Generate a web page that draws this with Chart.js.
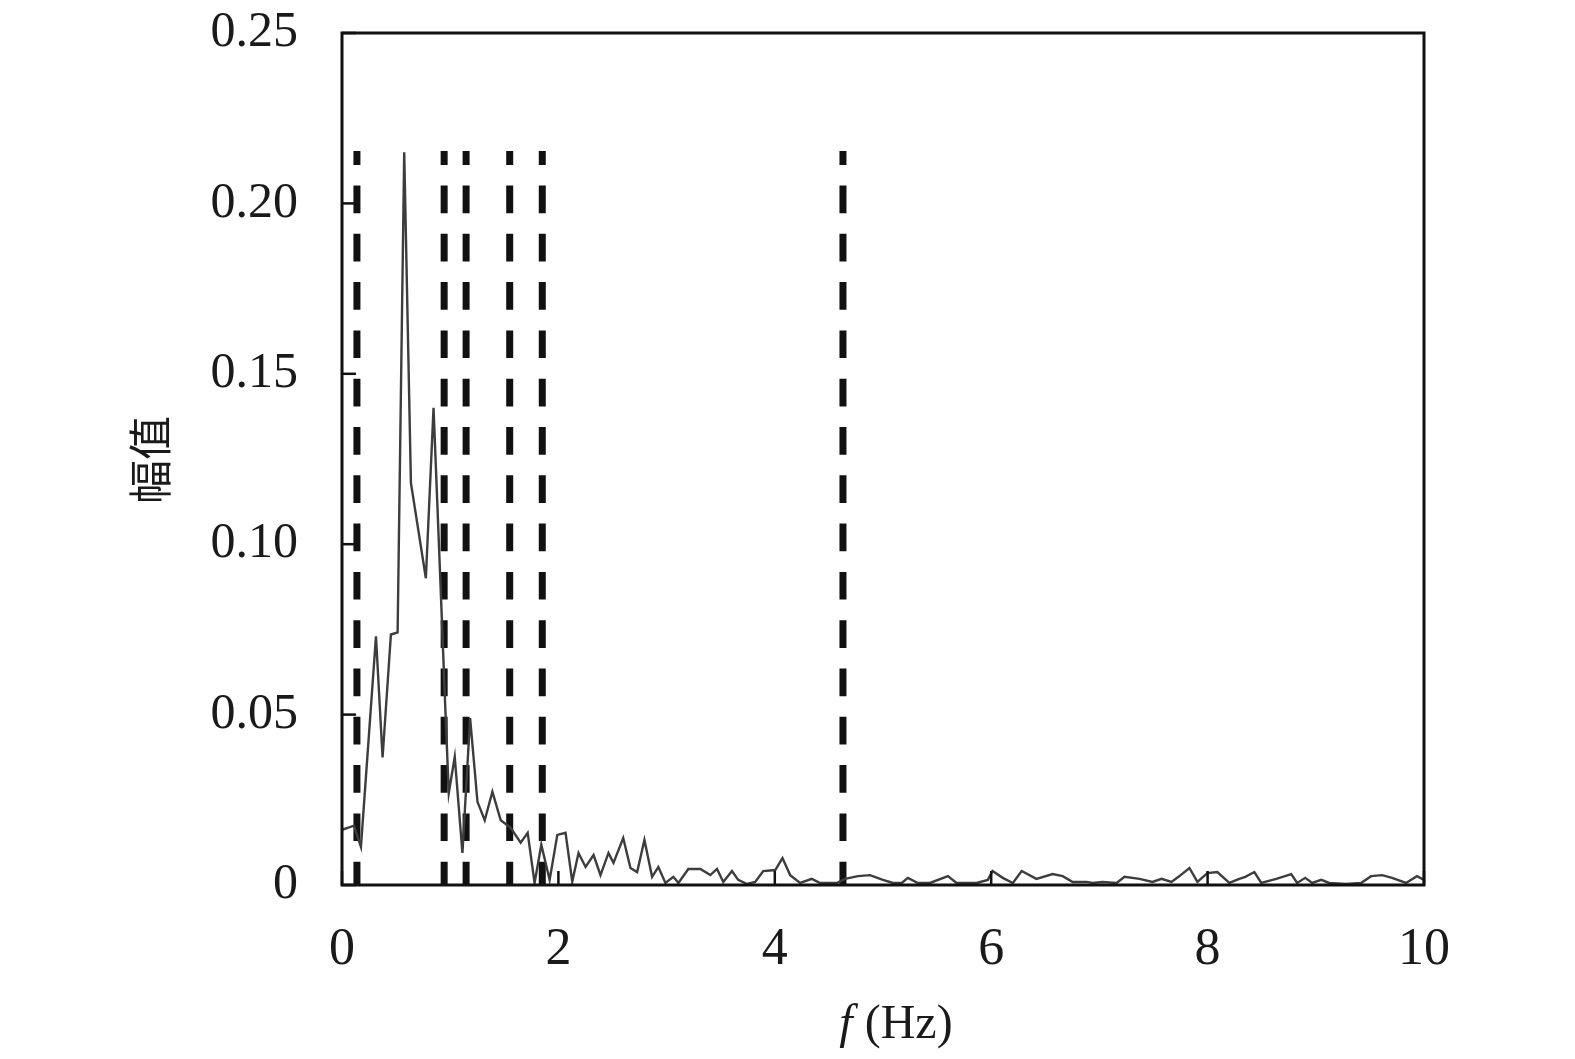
<!DOCTYPE html>
<html>
<head>
<meta charset="utf-8">
<script src="https://cdn.jsdelivr.net/npm/chart.js@4"></script>
<style>
  html, body { margin: 0; padding: 0; background: #ffffff; }
  #wrap { width: 1575px; height: 1059px; }
</style>
</head>
<body>
<div id="wrap"><canvas id="c" width="1575" height="1059"></canvas></div>
<script>
// Spectrum curve (frequency in Hz, amplitude)
const freq = [0, 0.11, 0.175, 0.314, 0.375, 0.452, 0.514, 0.575, 0.637, 0.775, 0.846, 0.913, 0.959, 0.987,
  1.042, 1.113, 1.184, 1.252, 1.319, 1.390, 1.467, 1.559, 1.651, 1.716, 1.780, 1.842, 1.919, 1.99,
  2.066, 2.128, 2.186, 2.251, 2.325, 2.389, 2.463, 2.509, 2.599, 2.666, 2.728, 2.795, 2.866, 2.924, 2.989,
  3.063, 3.109, 3.201, 3.312, 3.404, 3.466, 3.524, 3.604, 3.662, 3.743, 3.819, 3.893, 4.004, 4.071, 4.142,
  4.234, 4.342, 4.419, 4.573, 4.649, 4.769, 4.88, 5.0, 5.092, 5.173, 5.23, 5.323, 5.434, 5.6, 5.68, 5.864,
  5.969, 6.012, 6.107, 6.2, 6.282, 6.418, 6.568, 6.661, 6.753, 6.882, 6.937, 7.03, 7.159, 7.232, 7.371,
  7.491, 7.574, 7.666, 7.731, 7.832, 7.906, 7.998, 8.09, 8.201, 8.293, 8.349, 8.432, 8.496, 8.635, 8.773,
  8.828, 8.902, 8.967, 9.05, 9.124, 9.28, 9.419, 9.511, 9.613, 9.705, 9.834, 9.935, 10];
const amp = [0.0162, 0.0174, 0.0112, 0.073, 0.0374, 0.0735, 0.0741, 0.215, 0.118, 0.090, 0.140, 0.086, 0.0485, 0.027,
  0.0376, 0.0094, 0.049, 0.0244, 0.019, 0.0274, 0.019, 0.0168, 0.0124, 0.0153, 0.0006, 0.0118, 0.0015, 0.0147,
  0.0153, 0.001, 0.0094, 0.0053, 0.0088, 0.0029, 0.0094, 0.0065, 0.0138, 0.005, 0.0038, 0.0132, 0.0024, 0.0053, 0.0006,
  0.0024, 0.0006, 0.0047, 0.0047, 0.0029, 0.0047, 0.0009, 0.0041, 0.0015, 0.0003, 0.0009, 0.0041, 0.0044, 0.0079, 0.0029,
  0.0006, 0.0018, 0.0006, 0.0006, 0.0018, 0.0026, 0.0029, 0.0015, 0.0006, 0.0006, 0.0021, 0.0006, 0.0006, 0.0026, 0.0006, 0.0006,
  0.0015, 0.0041, 0.0021, 0.0006, 0.0041, 0.0018, 0.0032, 0.0026, 0.0009, 0.0009, 0.0006, 0.0009, 0.0006, 0.0024, 0.0018,
  0.0009, 0.0018, 0.0009, 0.0024, 0.005, 0.0009, 0.0035, 0.0038, 0.0006, 0.0018, 0.0024, 0.0038, 0.0006, 0.0018, 0.0032,
  0.0006, 0.0021, 0.0006, 0.0015, 0.0006, 0.0003, 0.0006, 0.0026, 0.0029, 0.0021, 0.0006, 0.0026, 0.0015];

// Vertical dashed marker lines
const markerFreqs = [0.138, 0.944, 1.147, 1.55, 1.851, 4.63];
const markerTop = 0.2154;

// Axis ticks
const xTicks = [0, 2, 4, 6, 8, 10];
const yTicks = [0, 0.05, 0.10, 0.15, 0.20, 0.25];
const yTickLabels = ['0', '0.05', '0.10', '0.15', '0.20', '0.25'];
const xTitleItalic = 'f';
const xTitleRest = '(Hz)';
const yTitle = '幅值';

const curveData = freq.map((f, i) => ({ x: f, y: amp[i] }));
const markerSets = markerFreqs.map(f => ({
  type: 'line',
  data: [{ x: f, y: markerTop }, { x: f, y: 0 }],
  borderColor: '#111111',
  borderWidth: 7,
  borderDash: [27.7, 20.6],
  borderDashOffset: 13.7,
  borderCapStyle: 'butt',
  pointRadius: 0,
  fill: false,
  tension: 0
}));

const framePlugin = {
  id: 'frame',
  afterDraw(chart) {
    const { ctx, chartArea: a, scales } = chart;
    ctx.save();
    ctx.strokeStyle = '#111111';
    ctx.lineWidth = 3;
    ctx.strokeRect(a.left, a.top, a.right - a.left, a.bottom - a.top);
    ctx.lineWidth = 2.5;
    // inward ticks
    xTicks.forEach(v => {
      const px = scales.x.getPixelForValue(v);
      ctx.beginPath(); ctx.moveTo(px, a.bottom); ctx.lineTo(px, a.bottom - 14); ctx.stroke();
    });
    yTicks.forEach(v => {
      const py = scales.y.getPixelForValue(v);
      ctx.beginPath(); ctx.moveTo(a.left, py); ctx.lineTo(a.left + 14, py); ctx.stroke();
    });
    // x title with italic f
    ctx.fillStyle = '#1a1a1a';
    ctx.textBaseline = 'alphabetic';
    const fontI = 'italic 48px "Liberation Serif"';
    const fontN = '48px "Liberation Serif"';
    ctx.font = fontI; const wI = ctx.measureText(xTitleItalic).width;
    ctx.font = fontN; const wN = ctx.measureText(xTitleRest).width;
    const gap = 12;
    const cx = (a.left + a.right) / 2 + 13;
    let sx = cx - (wI + gap + wN) / 2;
    const baseY = 1038;
    ctx.font = fontI; ctx.textAlign = 'left'; ctx.fillText(xTitleItalic, sx, baseY);
    ctx.font = fontN; ctx.fillText(xTitleRest, sx + wI + gap, baseY);
    // y title rotated
    ctx.translate(150, 460);
    ctx.rotate(-Math.PI / 2);
    ctx.font = '44px "Noto Sans CJK SC"';
    ctx.textAlign = 'center';
    ctx.textBaseline = 'middle';
    ctx.fillText(yTitle, 0, 0);
    ctx.restore();
  }
};

new Chart(document.getElementById('c'), {
  type: 'scatter',
  data: {
    datasets: [
      {
        type: 'line',
        data: curveData,
        borderColor: '#3d3d3d',
        borderWidth: 2.4,
        pointRadius: 0,
        fill: false,
        tension: 0
      },
      ...markerSets
    ]
  },
  options: {
    responsive: false,
    animation: false,
    devicePixelRatio: 1,
    layout: { padding: { left: 0, top: 33, right: 151, bottom: 0 } },
    plugins: { legend: { display: false }, tooltip: { enabled: false } },
    scales: {
      x: {
        type: 'linear', min: 0, max: 10,
        afterBuildTicks: s => { s.ticks = xTicks.map(v => ({ value: v })); },
        afterFit: s => { s.height = 174; s.paddingLeft = 0; s.paddingRight = 0; s.paddingTop = 0; s.paddingBottom = 0; },
        grid: { display: false, drawTicks: false },
        border: { display: false },
        ticks: {
          padding: 34,
          color: '#1a1a1a',
          font: { family: 'Liberation Serif', size: 52 },
          maxRotation: 0,
          callback: v => String(v)
        }
      },
      y: {
        type: 'linear', min: 0, max: 0.25,
        afterBuildTicks: s => { s.ticks = yTicks.map(v => ({ value: v })); },
        afterFit: s => { s.width = 342; s.paddingTop = 0; s.paddingBottom = 0; s.paddingLeft = 0; s.paddingRight = 0; },
        grid: { display: false, drawTicks: false },
        border: { display: false },
        ticks: {
          padding: 44,
          color: '#1a1a1a',
          font: { family: 'Liberation Serif', size: 50 },
          callback: (v) => { const i = yTicks.findIndex(t => Math.abs(t - v) < 1e-9); return i >= 0 ? yTickLabels[i] : ''; }
        }
      }
    }
  },
  plugins: [framePlugin]
});
</script>
</body>
</html>
